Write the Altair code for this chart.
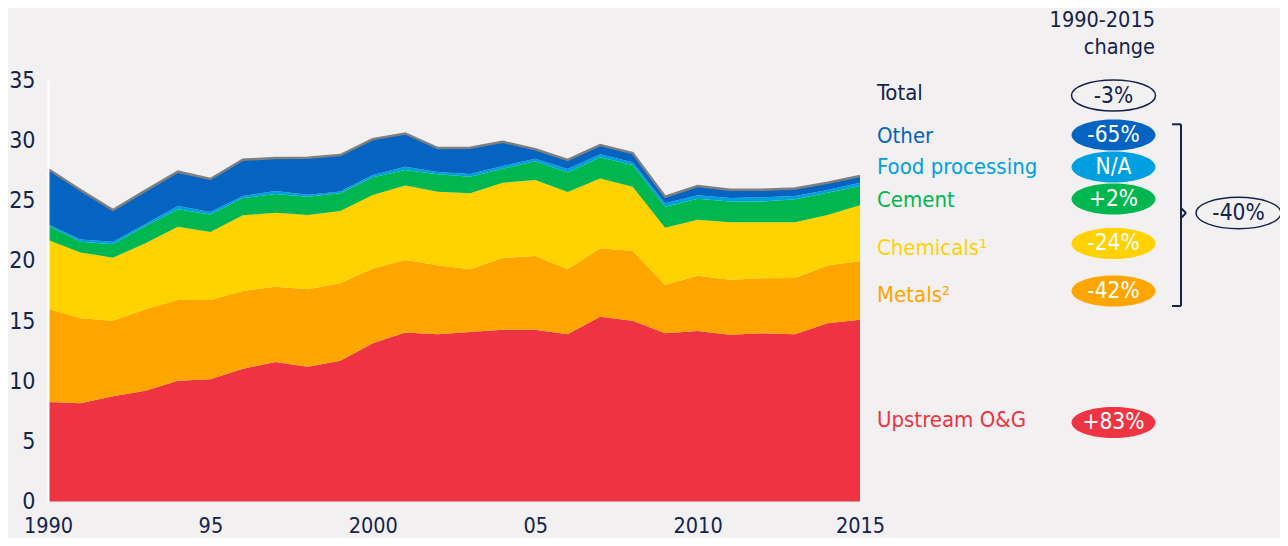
import altair as alt
import pandas as pd

# ---------------- data ----------------
years = [1990, 1991, 1992, 1993, 1994, 1995, 1996, 1997, 1998, 1999, 2000, 2001, 2002,
         2003, 2004, 2005, 2006, 2007, 2008, 2009, 2010, 2011, 2012, 2013, 2014, 2015]
upstream = [8.27, 8.16, 8.74, 9.21, 10.04, 10.16, 11.04, 11.60, 11.21, 11.71, 13.15, 14.06, 13.90,
            14.09, 14.28, 14.28, 13.90, 15.36, 15.03, 13.98, 14.17, 13.87, 13.98, 13.90, 14.81, 15.11]
metals = [7.76, 7.07, 6.29, 6.77, 6.71, 6.59, 6.46, 6.26, 6.43, 6.43, 6.23, 6.01, 5.75,
          5.21, 5.96, 6.13, 5.40, 5.69, 5.79, 4.02, 4.60, 4.57, 4.57, 4.68, 4.82, 4.88]
chemicals = [5.71, 5.48, 5.24, 5.48, 6.09, 5.65, 6.29, 6.15, 6.18, 6.01, 6.10, 6.21, 6.10,
             6.32, 6.26, 6.31, 6.43, 5.81, 5.35, 4.76, 4.66, 4.77, 4.66, 4.63, 4.19, 4.63]
cement = [1.19, 0.89, 1.11, 1.44, 1.45, 1.47, 1.44, 1.55, 1.52, 1.47, 1.47, 1.28, 1.45,
          1.38, 1.17, 1.56, 1.63, 1.75, 1.80, 1.75, 1.74, 1.74, 1.74, 1.91, 1.85, 1.61]
food = [0.11, 0.19, 0.22, 0.17, 0.27, 0.20, 0.17, 0.25, 0.16, 0.16, 0.19, 0.27, 0.20,
        0.22, 0.22, 0.22, 0.28, 0.25, 0.23, 0.28, 0.28, 0.28, 0.34, 0.28, 0.22, 0.27]
other = [4.60, 4.11, 2.63, 2.77, 2.86, 2.74, 3.01, 2.74, 3.08, 3.02, 2.99, 2.77, 1.98,
         2.19, 2.02, 0.78, 0.75, 0.77, 0.77, 0.55, 0.78, 0.69, 0.63, 0.63, 0.61, 0.56]

sectors = ["Upstream O&G", "Metals", "Chemicals", "Cement", "Food processing", "Other"]
series = [upstream, metals, chemicals, cement, food, other]

y_ticks = [0, 5, 10, 15, 20, 25, 30, 35]
x_ticks = [1990, 1995, 2000, 2005, 2010, 2015]
x_tick_labels = ["1990", "95", "2000", "05", "2010", "2015"]

ann_labels = ["Total", "Other", "Food processing", "Cement", "Chemicals\u00b9", "Metals\u00b2", "Upstream O&G"]
ann_changes = ["-3%", "-65%", "N/A", "+2%", "-24%", "-42%", "+83%"]
group_change = "-40%"
header_lines = ["1990-2015", "change"]

# ---------------- styles ----------------
BG = "#F2F0F1"
NAVY = "#14234B"
FONT = "DejaVu Sans Condensed, DejaVu Sans"
colors = ["#EE3342", "#FFA500", "#FFD200", "#00B74F", "#00A0E0", "#0563C1"]
ann_colors = [NAVY, "#0563C1", "#00A0E0", "#00B74F", "#FFD200", "#FFA500", "#EE3342"]
# annotation vertical positions (in y-axis units) – layout only
label_y = [33.96, 30.38, 27.81, 25.06, 21.07, 17.17, 6.77]
pill_y = [33.75, 30.47, 27.81, 25.15, 21.45, 17.50, 6.57]

rows = []
for i, (s, vals) in enumerate(zip(sectors, series)):
    for yr, v in zip(years, vals):
        rows.append({"year": yr, "sector": s, "value": v, "idx": i})
df = pd.DataFrame(rows)

ann = pd.DataFrame({
    "label": ann_labels, "change": ann_changes, "col": ann_colors,
    "ly": label_y, "py": pill_y,
    "txtcol": [NAVY] + ["white"] * 6,
    "filled": [False] + [True] * 6,
})

label_expr = "[" + ",".join("'%s'" % t for t in x_tick_labels) + "][(datum.value-1990)/5]"

xscale = alt.Scale(domain=[1990, 2015], nice=False, zero=False)
yscale = alt.Scale(domain=[0, 35], nice=False)

areas = alt.Chart(df).mark_area(interpolate="linear").encode(
    x=alt.X("year:Q", scale=xscale,
            axis=alt.Axis(values=x_ticks, labelExpr=label_expr, title=None, grid=False,
                          ticks=False, domain=False, labelPadding=14, labelFontSize=21.5,
                          labelFont=FONT, labelColor=NAVY, labelFlush=False)),
    y=alt.Y("value:Q", stack="zero", scale=yscale,
            axis=alt.Axis(values=y_ticks, title=None, grid=False, ticks=False,
                          domainColor="white", domainWidth=2, labelPadding=13,
                          labelFontSize=23, labelFont=FONT, labelColor=NAVY, zindex=1)),
    color=alt.Color("sector:N", scale=alt.Scale(domain=sectors, range=colors), legend=None),
    order=alt.Order("idx:Q", sort="ascending"),
)

total_line = alt.Chart(df).transform_aggregate(
    total="sum(value)", groupby=["year"]
).mark_line(color="#7F7F7F", strokeWidth=2.5).encode(
    x=alt.X("year:Q", scale=xscale),
    y=alt.Y("total:Q", scale=yscale),
)

labels_text = alt.Chart(ann).mark_text(align="left", baseline="middle", font=FONT, fontSize=22).encode(
    x=alt.value(829),
    y=alt.Y("ly:Q", scale=yscale),
    text="label:N",
    color=alt.Color("col:N", scale=None),
)

ELLIPSE = "M-1,0A1,0.369,0,1,1,1,0A1,0.369,0,1,1,-1,0Z"

pills_filled = alt.Chart(ann).transform_filter("datum.filled").mark_point(
    shape=ELLIPSE, size=7056, filled=True, opacity=1, strokeWidth=0
).encode(
    x=alt.value(1065.5),
    y=alt.Y("py:Q", scale=yscale),
    color=alt.Color("col:N", scale=None),
)

pills_outline = alt.Chart(ann).transform_filter("!datum.filled").mark_point(
    shape=ELLIPSE, size=7056, filled=False, opacity=1, stroke=NAVY, strokeWidth=1.5
).encode(
    x=alt.value(1065.5),
    y=alt.Y("py:Q", scale=yscale),
)

pill_text = alt.Chart(ann).mark_text(align="center", baseline="middle", font=FONT, fontSize=22.5).encode(
    x=alt.value(1065.5),
    y=alt.Y("py:Q", scale=yscale),
    text="change:N",
    color=alt.Color("txtcol:N", scale=None),
)

one = pd.DataFrame({"k": [0]})

group_pill = alt.Chart(one).mark_point(
    shape=ELLIPSE, size=7225, filled=False, opacity=1, stroke=NAVY, strokeWidth=1.5
).encode(x=alt.value(1190.5), y=alt.value(132.5))

group_text = alt.Chart(one).mark_text(
    align="center", baseline="middle", font=FONT, fontSize=22.5, color=NAVY, text=group_change
).encode(x=alt.value(1190.5), y=alt.value(132.5))

header1 = alt.Chart(one).mark_text(
    align="right", baseline="middle", font=FONT, fontSize=21.5, color=NAVY, text=header_lines[0]
).encode(x=alt.value(1107), y=alt.value(-59.8))
header2 = alt.Chart(one).mark_text(
    align="right", baseline="middle", font=FONT, fontSize=21.5, color=NAVY, text=header_lines[1]
).encode(x=alt.value(1107), y=alt.value(-32.2))

def rule(x1, y1, x2, y2):
    return alt.Chart(one).mark_rule(color=NAVY, strokeWidth=2).encode(
        x=alt.value(x1), y=alt.value(y1), x2=alt.value(x2), y2=alt.value(y2))

bracket = [
    rule(1133, 43.8, 1133, 225.5),
    rule(1124, 43.8, 1133, 43.8),
    rule(1124, 225.5, 1133, 225.5),
    rule(1133, 127.5, 1138, 132.5),
    rule(1138, 132.5, 1133, 137.5),
]

chart = alt.layer(
    areas, total_line, labels_text, pills_filled, pills_outline, pill_text,
    group_pill, group_text, header1, header2, *bracket
).properties(
    width=812, height=421,
    padding={"left": 40, "top": 72.5, "right": 420, "bottom": 36.5},
    autosize="none",
    background=BG,
).configure_view(strokeWidth=0)

chart.save("out.html", embed_options={"renderer": "svg", "actions": False})
